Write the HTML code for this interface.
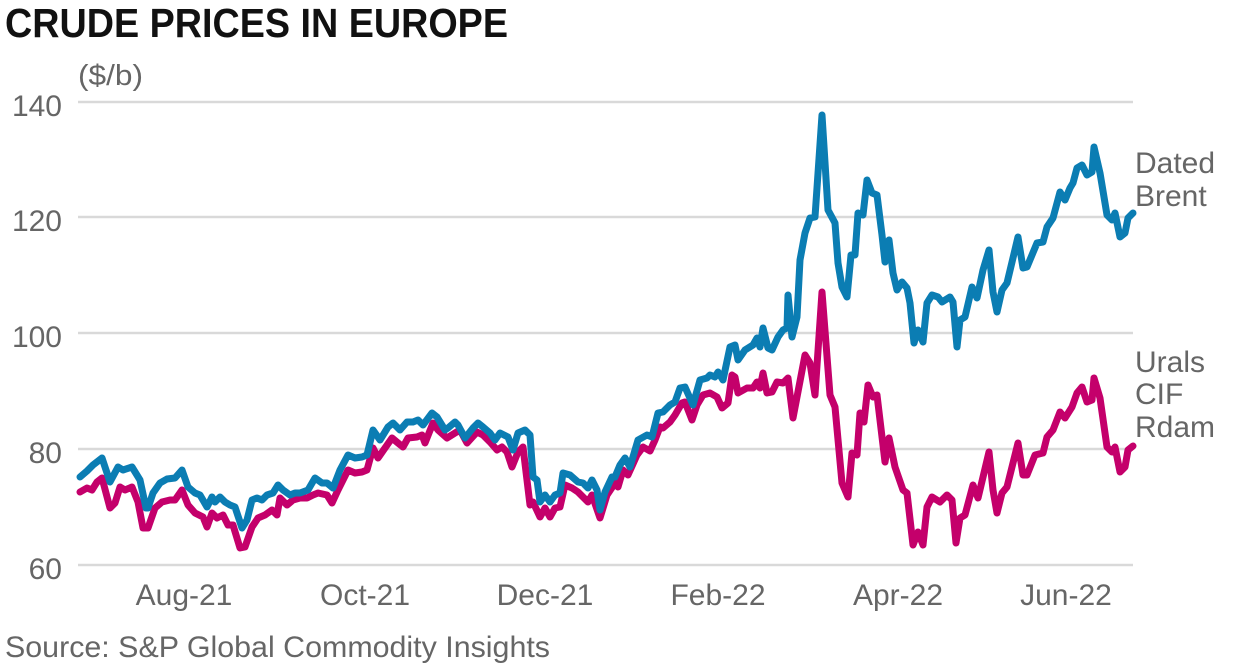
<!DOCTYPE html>
<html><head><meta charset="utf-8"><style>
html,body{margin:0;padding:0;background:#fff;}
svg{display:block;}
text{font-family:"Liberation Sans",sans-serif;}
</style></head><body>
<svg width="1235" height="671" viewBox="0 0 1235 671" xmlns="http://www.w3.org/2000/svg">
<rect width="1235" height="671" fill="#fff"/>
<text x="5" y="37" font-size="41" font-weight="bold" fill="#111" textLength="503" lengthAdjust="spacingAndGlyphs">CRUDE PRICES IN EUROPE</text>
<text x="78" y="85" font-size="29" fill="#666" textLength="65" lengthAdjust="spacingAndGlyphs">($/b)</text>
<g stroke="#d9d9d9" stroke-width="2.5">
<line x1="78" y1="102" x2="1133" y2="102"/>
<line x1="78" y1="217" x2="1133" y2="217"/>
<line x1="78" y1="333" x2="1133" y2="333"/>
<line x1="78" y1="449" x2="1133" y2="449"/>
<line x1="78" y1="565" x2="1133" y2="565"/>
</g>
<g font-size="30" fill="#666" text-anchor="end">
<text x="62" y="116">140</text>
<text x="62" y="231">120</text>
<text x="62" y="347">100</text>
<text x="62" y="463">80</text>
<text x="62" y="579">60</text>
</g>
<g font-size="30" fill="#666" text-anchor="middle">
<text x="184" y="605">Aug-21</text>
<text x="365" y="605">Oct-21</text>
<text x="545" y="605">Dec-21</text>
<text x="718" y="605">Feb-22</text>
<text x="898" y="605">Apr-22</text>
<text x="1066" y="605">Jun-22</text>
</g>
<text x="5" y="657" font-size="30" fill="#666" textLength="545" lengthAdjust="spacingAndGlyphs">Source: S&amp;P Global Commodity Insights</text>
<g font-size="30" fill="#666">
<text x="1135" y="173">Dated</text>
<text x="1135" y="206">Brent</text>
<text x="1135" y="372">Urals</text>
<text x="1135" y="404">CIF</text>
<text x="1135" y="437">Rdam</text>
</g>
<polyline fill="none" stroke="#c4006b" stroke-width="7" stroke-linejoin="round" stroke-linecap="round" points="80,492 87,488 92,490 97,482 102,478 110,508 115,503 120,487 125,490 132,487 138,502 143,528 148,528 155,508 162,502 170,500 175,500 182,490 188,505 195,513 203,517 207,527 212,513 217,518 223,515 228,525 233,525 240,548 245,547 252,527 258,518 265,515 272,510 277,515 280,498 287,505 293,500 300,498 307,498 313,495 318,493 327,495 332,503 338,490 348,470 355,473 362,472 367,470 373,448 378,458 385,448 392,438 398,443 403,447 408,438 417,437 422,435 425,443 433,423 438,430 447,438 455,433 460,430 467,443 477,432 483,435 490,442 497,450 502,447 507,452 512,467 518,452 523,447 530,505 533,502 540,517 545,508 550,517 555,508 560,507 565,485 572,488 578,492 588,502 592,495 600,518 607,495 615,483 618,487 623,470 628,475 637,455 643,447 650,451 655,440 660,427 663,428 670,422 675,415 682,403 685,402 692,420 697,405 703,395 710,393 717,397 722,408 728,403 732,375 735,377 738,393 747,388 753,388 757,382 760,388 763,373 767,393 772,392 777,382 783,383 788,378 793,418 805,355 810,363 815,395 822,292 830,395 835,407 842,483 848,497 852,453 857,455 860,413 864,422 868,385 873,397 877,395 885,462 889,438 895,467 903,490 907,493 913,545 918,532 923,545 927,507 932,497 940,502 947,495 952,500 956,543 960,518 965,515 973,485 978,498 989,452 993,490 997,513 1002,493 1007,487 1018,443 1023,475 1027,475 1035,455 1043,453 1047,437 1053,430 1060,412 1065,418 1072,407 1077,393 1082,387 1087,402 1092,400 1094,378 1100,398 1107,447 1112,452 1115,447 1120,472 1125,467 1128,450 1133,446"/>
<polyline fill="none" stroke="#0b7db3" stroke-width="7" stroke-linejoin="round" stroke-linecap="round" points="80,477 87,471 93,465 102,458 110,482 118,467 123,470 132,467 140,480 146,508 148,508 153,493 160,483 167,479 175,478 182,470 188,487 195,493 200,495 207,507 212,497 215,502 220,497 225,502 230,505 235,507 242,528 247,520 252,500 257,498 262,500 267,495 273,493 278,485 283,490 290,495 295,493 300,493 308,490 315,478 322,483 327,483 333,488 340,470 348,455 355,458 362,457 367,455 373,430 380,440 388,427 393,423 400,430 407,422 413,422 418,420 423,425 432,413 437,417 445,430 448,428 455,422 458,425 465,438 473,428 478,423 483,427 490,433 495,440 500,433 508,437 513,450 518,433 525,430 530,435 533,477 537,480 540,502 545,495 550,502 555,495 560,493 563,473 570,475 578,482 583,483 588,488 592,480 597,490 600,510 605,492 612,477 615,477 620,465 625,458 630,467 638,440 647,435 652,437 658,413 663,412 670,405 675,402 680,388 685,387 693,405 700,380 707,378 710,375 715,377 718,372 723,380 730,347 735,345 738,360 745,350 753,345 757,338 760,347 763,328 768,348 772,350 778,337 783,330 787,328 788,295 792,337 797,317 800,260 805,233 810,218 815,217 822,115 828,210 835,223 838,263 842,287 847,297 851,255 855,255 858,213 863,215 867,180 872,193 877,195 882,235 885,262 889,240 893,273 897,290 902,282 907,288 910,303 914,343 918,330 923,342 927,303 932,295 938,297 942,302 950,297 953,302 957,347 960,320 965,317 972,287 977,298 983,270 989,250 993,292 997,312 1002,290 1007,283 1018,237 1023,268 1027,267 1037,243 1043,242 1047,227 1053,218 1060,192 1065,200 1070,188 1073,183 1077,168 1082,165 1087,175 1092,172 1094,147 1100,173 1107,215 1112,220 1115,213 1120,237 1125,233 1128,218 1133,213"/>
</svg>
</body></html>
